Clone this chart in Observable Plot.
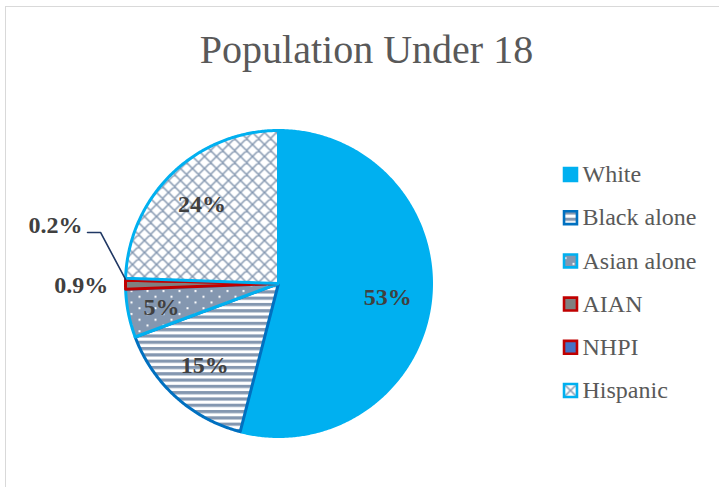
<!DOCTYPE html>
<html>
<head>
<meta charset="utf-8">
<script src="https://cdn.jsdelivr.net/npm/d3@7"></script>
<script src="https://cdn.jsdelivr.net/npm/@observablehq/plot@0.6"></script>
<style>
  html, body { margin: 0; padding: 0; background: #fff; overflow: hidden; }
  #wrap { position: relative; width: 719px; height: 487px; overflow: hidden; }
  #frame { position: absolute; left: 5px; top: 6px; width: 800px; height: 600px; border: 1.5px solid #d9d9d9; box-sizing: border-box; }
  #chart { position: absolute; left: 0; top: 0; }
  #chart svg text { font-family: 'Liberation Serif', 'DejaVu Serif', serif; }
</style>
</head>
<body>
<div id="wrap"><div id="frame"></div><div id="chart"></div></div>
<script>
// ---- data ----
const title = "Population Under 18";
const categories = ["White", "Black alone", "Asian alone", "AIAN", "NHPI", "Hispanic"];
const values = [53, 15, 5, 0.9, 0.2, 24];
const labels = ["53%", "15%", "5%", "0.9%", "0.2%", "24%"];

// ---- styles ----
const fillStyles = ["#00B0F0", "url(#pStripes)", "url(#pDots)", "#808080", "#4472C4", "url(#pLattice)"];
const strokeStyles = ["#00B0F0", "#0070C0", "#00B0F0", "#C00000", "#C00000", "#00B0F0"];
const W = 719, H = 487;
const cx = 278, cy = 283, R = 153;
const labelOutside = [false, false, false, true, true, false];
const serif = "Liberation Serif";

const arcs = d3.pie().sort(null).startAngle(0).endAngle(2 * Math.PI)(values);
const polar = (a, r) => ({x: cx + r * Math.sin(a), y: cy - r * Math.cos(a)});

function slicePoints(arc) {
  const pts = [polar(0, 0)];
  const n = Math.max(2, Math.ceil((arc.endAngle - arc.startAngle) / (Math.PI / 360)));
  for (let i = 0; i <= n; i++) {
    const a = arc.startAngle + (arc.endAngle - arc.startAngle) * i / n;
    pts.push(polar(a, R));
  }
  pts.push(polar(0, 0));
  return pts;
}

const sliceMarks = arcs.map((arc, i) =>
  Plot.line(slicePoints(arc), {
    x: "x", y: "y", fill: fillStyles[i], stroke: strokeStyles[i],
    strokeWidth: 3, strokeLinejoin: "round", curve: "linear"
  })
);

// inside labels
const inside = arcs.map((arc, i) => ({arc, i})).filter(d => !labelOutside[d.i]).map(d => {
  const m = (d.arc.startAngle + d.arc.endAngle) / 2;
  const f = d.arc.endAngle - d.arc.startAngle < 0.5 ? 0.78 : 0.72;
  return {...polar(m, R * f), text: labels[d.i]};
});
// AIAN outside label
const aianIdx = categories.indexOf("AIAN");
const aianArc = arcs[aianIdx];
const aianMid = (aianArc.startAngle + aianArc.endAngle) / 2;
const aianLabel = [{...polar(aianMid, R * 1.29), text: labels[aianIdx]}];
// NHPI label with leader line
const nhpiIdx = categories.indexOf("NHPI");
const nhpiArc = arcs[nhpiIdx];
const nhpiMid = (nhpiArc.startAngle + nhpiArc.endAngle) / 2;
const elbow = polar(286 * Math.PI / 180, R * 1.21);
const leaderPts = [polar(nhpiMid, R), elbow, {x: elbow.x - 13, y: elbow.y}];
const nhpiLabel = [{x: elbow.x - 18, y: elbow.y - 7, text: labels[nhpiIdx]}];

// legend
const legendRows = categories.map((c, i) => ({name: c, i, x: 570, y: 174 + i * 43.2}));
const legendMarks = legendRows.map(d =>
  Plot.dot([d], {x: "x", y: "y", symbol: "square", r: 7.3, fill: fillStyles[d.i], stroke: strokeStyles[d.i], strokeWidth: 2.6})
);

const plot = Plot.plot({
  width: W, height: H,
  margin: 0,
  x: {domain: [0, W], range: [0, W], axis: null},
  y: {domain: [0, H], range: [0, H], axis: null},
  style: {background: "transparent", overflow: "visible", fontFamily: "'Liberation Serif', serif"},
  marks: [
    ...sliceMarks,
    Plot.line(leaderPts, {x: "x", y: "y", stroke: "#203864", strokeWidth: 1.6}),
    Plot.text(inside, {x: "x", y: "y", text: "text", fontSize: 24, fontWeight: "bold", fill: "#404040", fontFamily: serif}),
    Plot.text(aianLabel, {x: "x", y: "y", text: "text", fontSize: 24, fontWeight: "bold", fill: "#404040", fontFamily: serif}),
    Plot.text(nhpiLabel, {x: "x", y: "y", text: "text", textAnchor: "end", fontSize: 24, fontWeight: "bold", fill: "#404040", fontFamily: serif}),
    ...legendMarks,
    Plot.text(legendRows, {x: d => d.x + 12, y: "y", text: "name", textAnchor: "start", fontSize: 24, fill: "#595959", fontFamily: serif}),
    Plot.text([{x: 366, y: 50, t: title}], {x: "x", y: "y", text: "t", fontSize: 40, fill: "#595959", fontFamily: serif})
  ]
});

// patterns
const svg = d3.select(plot);
const defs = svg.insert("defs", ":first-child");
const ps = defs.append("pattern").attr("id", "pStripes").attr("patternUnits", "userSpaceOnUse")
  .attr("width", 8).attr("height", 6.3);
ps.append("rect").attr("width", 8).attr("height", 6.3).attr("fill", "#fff");
ps.append("rect").attr("y", 0).attr("width", 8).attr("height", 3.2).attr("fill", "#8497B0");

const pd = defs.append("pattern").attr("id", "pDots").attr("patternUnits", "userSpaceOnUse")
  .attr("width", 16).attr("height", 11.5);
pd.append("rect").attr("width", 16).attr("height", 11.5).attr("fill", "#8497B0");
pd.append("rect").attr("x", 2).attr("y", 2).attr("width", 2).attr("height", 2).attr("fill", "#fff");
pd.append("rect").attr("x", 10).attr("y", 7.75).attr("width", 2).attr("height", 2).attr("fill", "#fff");

const pl = defs.append("pattern").attr("id", "pLattice").attr("patternUnits", "userSpaceOnUse")
  .attr("width", 12).attr("height", 12);
pl.append("rect").attr("width", 12).attr("height", 12).attr("fill", "#fff");
pl.append("path").attr("d", "M0,0L12,12M12,0L0,12M-2,10L2,14M10,-2L14,2M-2,2L2,-2M10,14L14,10")
  .attr("stroke", "#8497B0").attr("stroke-width", 1.5).attr("fill", "none");

document.getElementById("chart").appendChild(plot);
</script>
</body>
</html>
